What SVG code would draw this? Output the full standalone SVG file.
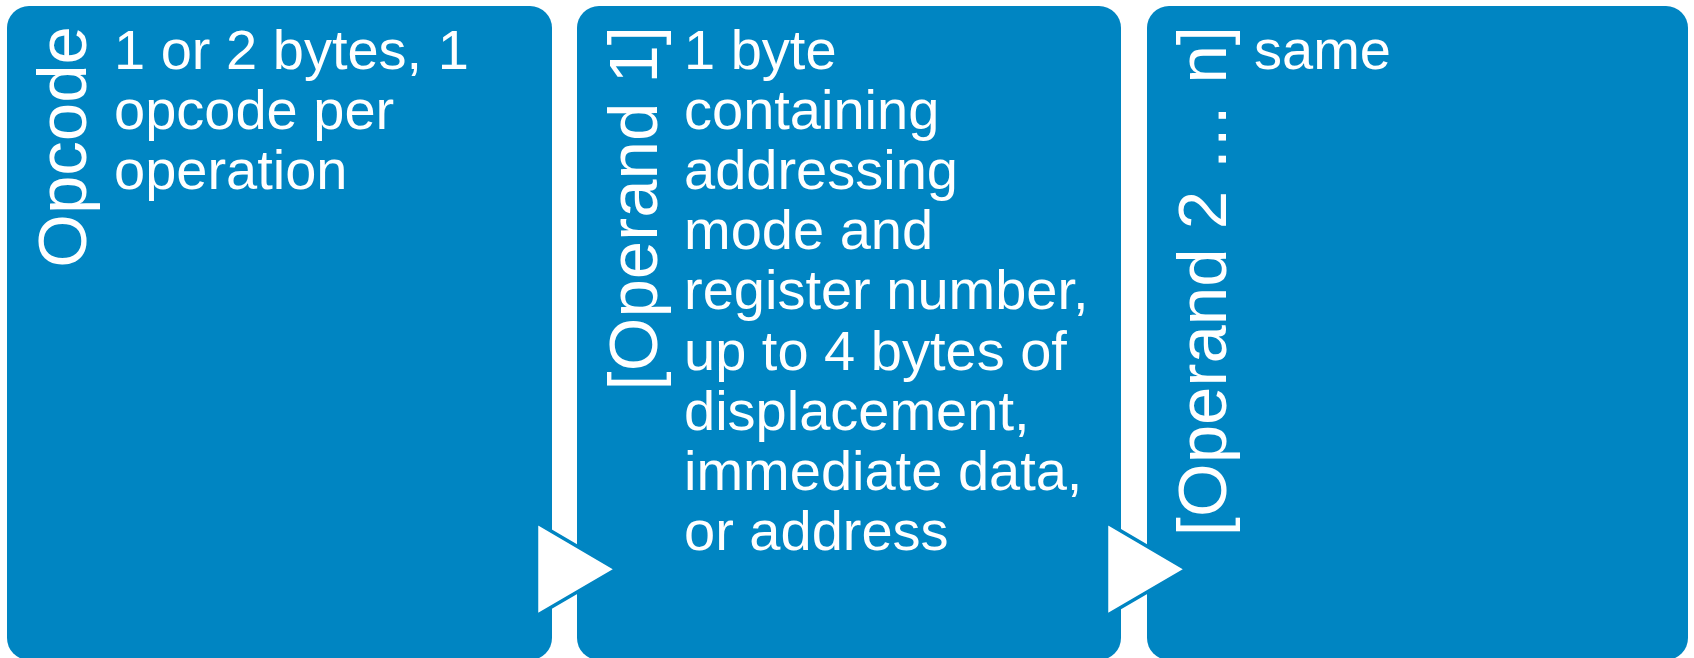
<svg xmlns="http://www.w3.org/2000/svg" width="1694" height="658" viewBox="0 0 1694 658">
  <style>
    .box { fill: #0085C2; }
    .title { font-family: "Liberation Sans", Arial, sans-serif; font-size: 69px; fill: #FFFFFF; text-anchor: end; }
    .body { font-family: "Liberation Sans", Arial, sans-serif; font-size: 56px; fill: #FFFFFF; }
    .arrow { fill: #FFFFFF; stroke: #0085C2; stroke-width: 3.5; stroke-linejoin: miter; }
  </style>
  <rect width="1694" height="658" fill="#FFFFFF"/>

  <!-- Opcode field -->
  <g id="opcode">
    <rect class="box" x="7" y="6" width="545" height="654" rx="22" ry="22"/>
    <text class="title" transform="translate(86,26) rotate(-90)">Opcode</text>
    <text class="body" x="114" y="69">
      <tspan x="114" y="69">1 or 2 bytes, 1</tspan>
      <tspan x="114" y="129">opcode per</tspan>
      <tspan x="114" y="189">operation</tspan>
    </text>
  </g>

  <!-- First operand field -->
  <g id="operand1">
    <rect class="box" x="577" y="6" width="544" height="654" rx="22" ry="22"/>
    <text class="title" transform="translate(656.5,26) rotate(-90)">[Operand 1]</text>
    <text class="body" x="684" y="69">
      <tspan x="684" y="69">1 byte</tspan>
      <tspan x="684" y="129">containing</tspan>
      <tspan x="684" y="189">addressing</tspan>
      <tspan x="684" y="249">mode and</tspan>
      <tspan x="684" y="309">register number,</tspan>
      <tspan x="684" y="370">up to 4 bytes of</tspan>
      <tspan x="684" y="430">displacement,</tspan>
      <tspan x="684" y="490">immediate data,</tspan>
      <tspan x="684" y="550">or address</tspan>
    </text>
  </g>

  <!-- Remaining operand fields -->
  <g id="operand2n">
    <rect class="box" x="1147" y="6" width="541" height="654" rx="22" ry="22"/>
    <text class="title" transform="translate(1226,26) rotate(-90)">[Operand 2 … n]</text>
    <text class="body" x="1254" y="69">same</text>
  </g>

  <!-- Flow arrows between fields -->
  <g id="connectors">
    <polygon class="arrow" points="536.5,522.6 616.2,569.2 536.5,615.8"/>
    <polygon class="arrow" points="1106.5,522.6 1186.2,569.2 1106.5,615.8"/>
  </g>
</svg>
